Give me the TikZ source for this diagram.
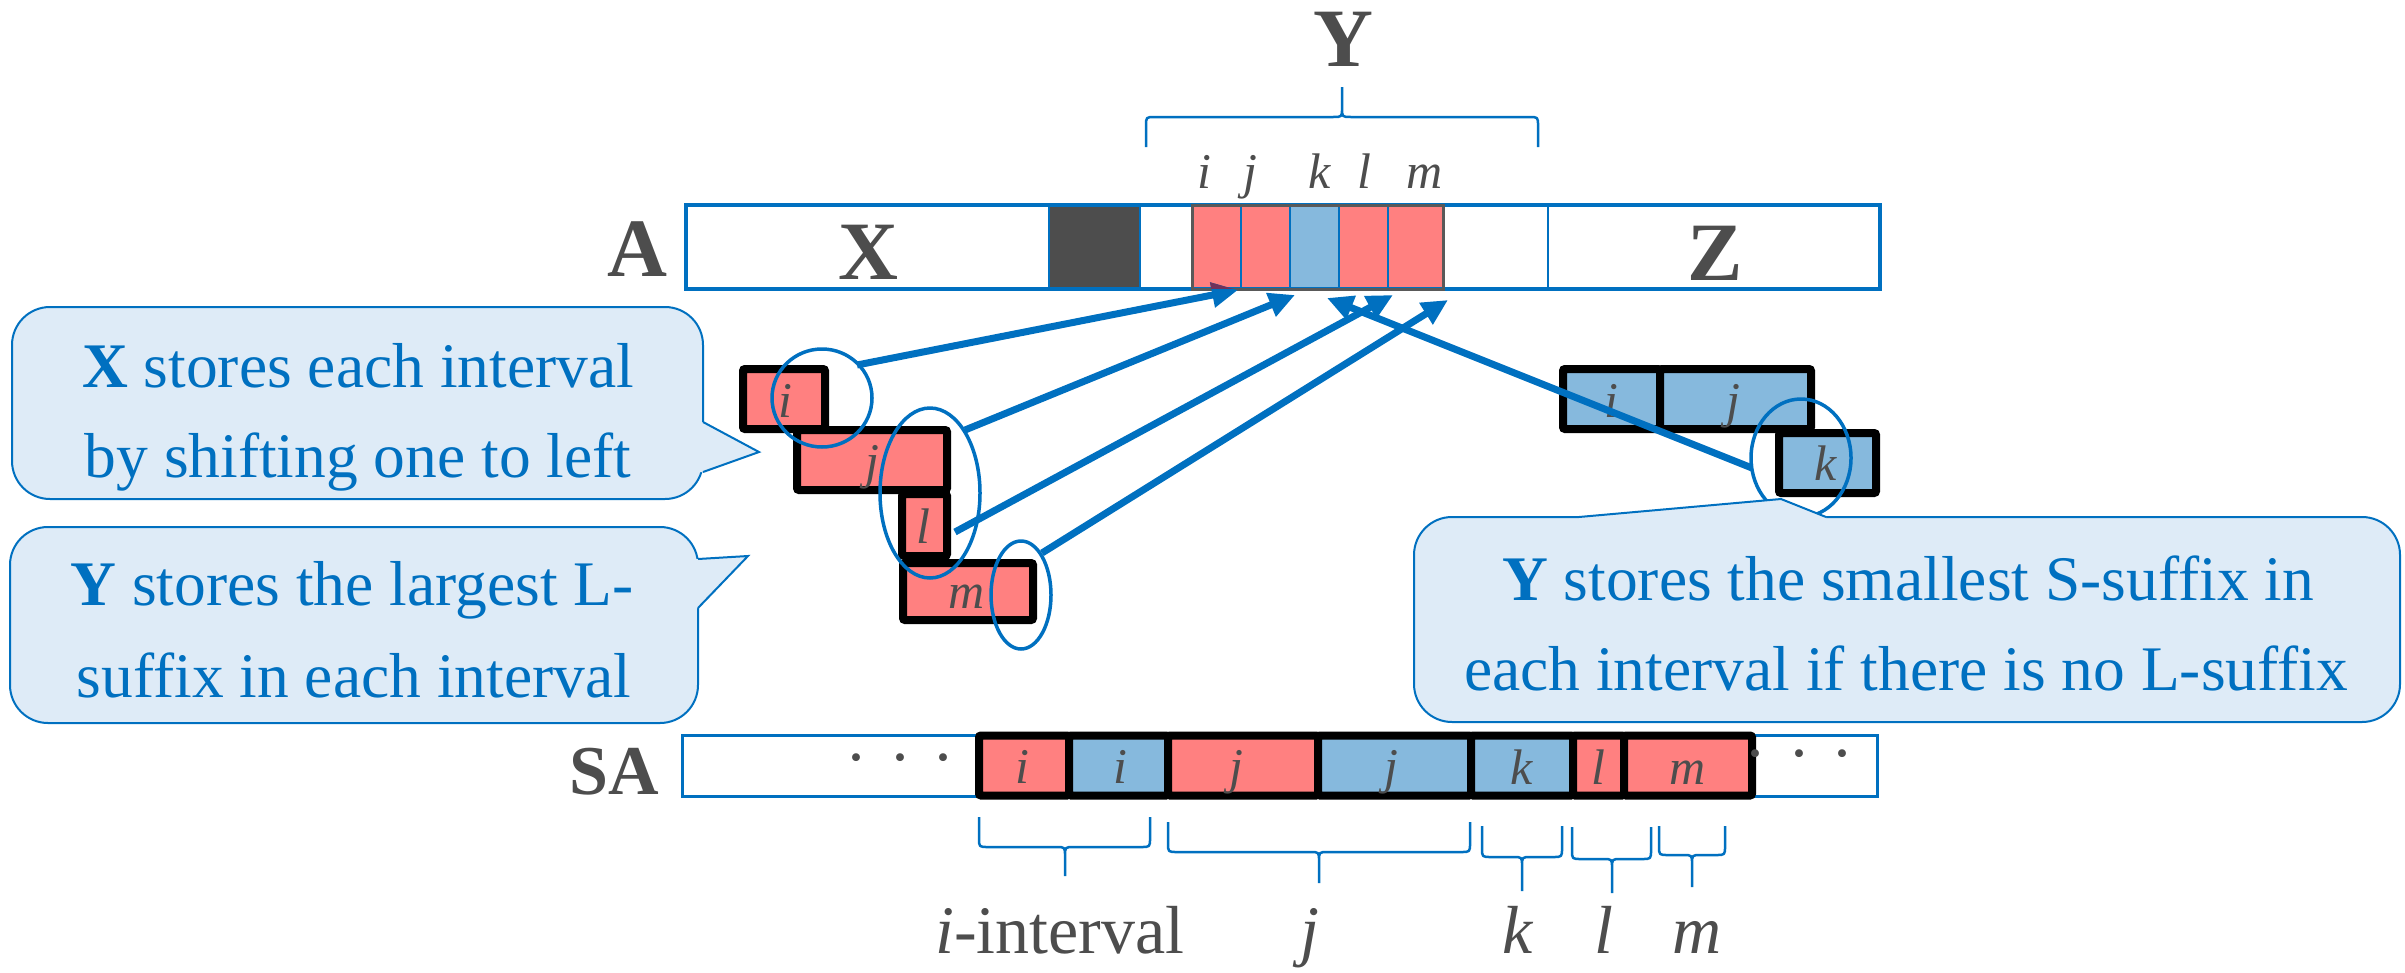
\documentclass[tikz,border=0pt]{standalone}
\usepackage{fontspec}
\setmainfont{Liberation Serif}
\usetikzlibrary{arrows.meta}

\definecolor{accent}{RGB}{0,112,192}
\definecolor{notefill}{RGB}{222,235,247}
\definecolor{lcell}{RGB}{255,128,128}
\definecolor{scell}{RGB}{134,185,221}
\definecolor{ink}{RGB}{77,77,77}
\definecolor{rim}{RGB}{89,89,89}
\definecolor{shade}{RGB}{112,50,92}

\newcommand\setfs[2]{\fontsize{#1}{#2}\selectfont}
% curly bracket: x1, x2, x of tip, y of ends, y of bar, y of tip, direction (1 = tip down, -1 = tip up)
\newcommand\curlybracket[7]{%
  \draw[curly] (#1,#4) -- (#1,{#5-9*(#7)}) .. controls (#1,#5) .. ({#1+9},#5)
      -- ({#3-9},#5) .. controls (#3,#5) .. (#3,{#5+9*(#7)}) -- (#3,#6)
    (#2,#4) -- (#2,{#5-9*(#7)}) .. controls (#2,#5) .. ({#2-9},#5)
      -- ({#3+9},#5) .. controls (#3,#5) .. (#3,{#5+9*(#7)});}

\begin{document}
\begin{tikzpicture}[x=1pt,y=-1pt,
  curly/.style={draw=accent,line width=2.5pt,line join=round},
  bigletter/.style={font=\setfs{83}{90}\bfseries,text=ink,inner sep=0pt,anchor=base},
  arrayname/.style={font=\setfs{70}{80}\bfseries,text=ink,inner sep=0pt,anchor=base},
  cellitem/.style={font=\setfs{50}{60}\itshape,text=ink,inner sep=0pt,anchor=base},
  keyitem/.style={font=\setfs{68}{80},text=ink,inner sep=0pt,anchor=base},
  dots/.style={font=\setfs{66}{80},text=ink,inner sep=0pt,anchor=base},
  notetext/.style={font=\setfs{63.5}{90},text=accent,inner sep=0pt,anchor=base},
  notebox/.style={fill=notefill,draw=accent,line width=2pt,rounded corners=38pt},
  noteedge/.style={draw=accent,line width=2pt,line join=miter},
  frame/.style={draw=accent,line width=3.5pt},
  divider/.style={draw=accent,line width=2.5pt},
  heavy/.style={draw=black,line width=8pt,rounded corners=2pt},
  ring/.style={draw=accent,line width=3.5pt},
  link/.style={draw=accent,line width=7pt,-{Triangle[length=26pt,width=24pt]}}]

\useasboundingbox (0,0) rectangle (2405,972);

% ---------- array A ----------
\fill[ink] (1049,205) rectangle (1140,289);
\fill[lcell] (1192,205) rectangle (1290,289);
\fill[scell] (1290,205) rectangle (1339,289);
\fill[lcell] (1339,205) rectangle (1443,289);
\draw[frame] (686,205) rectangle (1880,289);
\foreach \x in {1049,1140,1548,1241,1290,1339,1388}
  \draw[divider] (\x,205) -- (\x,289);
\draw[draw=rim,line width=3pt] (1192,205) rectangle (1443,289);

\node[bigletter] (nameA) at (637,276) {A};
\node[bigletter] (partX) at (868,279) {X};
\node[bigletter] (partZ) at (1715,280) {Z};
\node[bigletter] (partY) at (1343,66) {Y};
\curlybracket{1146}{1538}{1342}{147}{117}{87}{-1}

\node[cellitem] (ai) at (1204,188) {i};
\node[cellitem] (aj) at (1250,188) {j};
\node[cellitem] (ak) at (1320,188) {k};
\node[cellitem] (al) at (1364,188) {l};
\node[cellitem] (am) at (1425,188) {m};

% ---------- L-suffix staircase ----------
\draw[heavy,fill=lcell] (743,369) rectangle (825,429);
\draw[heavy,fill=lcell] (797,430) rectangle (947,490);
\draw[heavy,fill=lcell] (902,494) rectangle (947,556);
\draw[heavy,fill=lcell] (903,563) rectangle (1033,620);
\node[cellitem] (li) at (785,417) {i};
\node[cellitem] (lj) at (872,478) {j};
\node[cellitem] (ll) at (923,543) {l};
\node[cellitem] (lm) at (967,608) {m};

% ---------- S-suffix boxes ----------
\draw[heavy,fill=scell] (1563,369) rectangle (1660,429);
\draw[heavy,fill=scell] (1660,369) rectangle (1811,429);
\draw[heavy,fill=scell] (1779,433) rectangle (1876,493);
\node[cellitem] (si) at (1611,417) {i};
\node[cellitem] (sj) at (1733,417) {j};
\node[cellitem] (sk) at (1826,480) {k};

% ---------- rings ----------
\draw[ring] (822,398) ellipse [x radius=50pt, y radius=49pt];
\draw[ring] (930,493) ellipse [x radius=50pt, y radius=85pt];
\draw[ring] (1021,595) ellipse [x radius=30pt, y radius=54pt];
\draw[ring] (1801,458) ellipse [x radius=50pt, y radius=59pt];

% ---------- links into A ----------
\coordinate (s1) at (857,365);  \coordinate (t1) at (1238,290);
\coordinate (s2) at (965,430);  \coordinate (t2) at (1295,295);
\coordinate (s3) at (955,532);  \coordinate (t3) at (1393,295);
\coordinate (s4) at (1042,553); \coordinate (t4) at (1448,300);
\coordinate (s5) at (1752,468); \coordinate (t5) at (1327,298);
\draw[link] (s1) -- (t1);
\draw[link] (s2) -- (t2);
\draw[link] (s3) -- (t3);
\draw[link] (s4) -- (t4);
\draw[link] (s5) -- (t5);
\begin{scope}
  \clip (1194,207) rectangle (1240,288);
  \draw[link,draw=shade] (s1) -- (t1);
\end{scope}

% ---------- notes ----------
\draw[notebox] (12,307) rectangle (703,499);
\fill[notefill] (698,422) -- (703,422) -- (759,452) -- (703,472) -- (698,472) -- cycle;
\draw[noteedge] (703,422) -- (759,452) -- (703,472);
\node[notetext] (n1a) at (358,387) {\textbf{X} stores each interval};
\node[notetext] (n1b) at (358,477) {by shifting one to left};

\draw[notebox] (10,527) rectangle (698,723);
\fill[notefill] (693,559) -- (698,559) -- (748,556) -- (698,608) -- (693,608) -- cycle;
\draw[noteedge] (698,559) -- (748,556) -- (698,608);
\node[notetext] (n2a) at (352,605) {\textbf{Y} stores the largest L-};
\node[notetext] (n2b) at (354,697) {suffix in each interval};

\draw[notebox] (1414,517) rectangle (2400,722);
\fill[notefill] (1579,522) -- (1579,517) -- (1781,499) -- (1826,517) -- (1826,522) -- cycle;
\draw[noteedge] (1579,517) -- (1781,499) -- (1826,517);
\node[notetext] (n3a) at (1908,600) {\textbf{Y} stores the smallest S-suffix in};
\node[notetext] (n3b) at (1906,690) {each interval if there is no L-suffix};

% ---------- suffix array SA ----------
\draw[accent,line width=3pt] (682,735) rectangle (1877,796);
\draw[heavy,fill=lcell] (979,735.5) rectangle (1069,795.5);
\draw[heavy,fill=scell] (1069,735.5) rectangle (1168,795.5);
\draw[heavy,fill=lcell] (1168,735.5) rectangle (1318,795.5);
\draw[heavy,fill=scell] (1318,735.5) rectangle (1471,795.5);
\draw[heavy,fill=scell] (1471,735.5) rectangle (1573,795.5);
\draw[heavy,fill=lcell] (1573,735.5) rectangle (1624,795.5);
\draw[heavy,fill=lcell] (1624,735.5) rectangle (1752,795.5);
\node[arrayname] (nameSA) at (614,794) {SA};
\node[dots] (dl) at (900,779) {·\hspace{22pt}·\hspace{22pt}·};
\node[dots] (dr) at (1799,775) {·\hspace{22pt}·\hspace{22pt}·};
\node[cellitem] (c1) at (1022,783) {i};
\node[cellitem] (c2) at (1120,783) {i};
\node[cellitem] (c3) at (1236,783) {j};
\node[cellitem] (c4) at (1391,783) {j};
\node[cellitem] (c5) at (1522,784) {k};
\node[cellitem] (c6) at (1598,784) {l};
\node[cellitem] (c7) at (1688,784) {m};

% ---------- interval brackets ----------
\curlybracket{979}{1150}{1065}{817}{847}{876}{1}
\curlybracket{1168}{1470}{1319}{822}{852}{883}{1}
\curlybracket{1482}{1562}{1522}{826}{857}{891}{1}
\curlybracket{1572}{1651}{1612}{827}{859}{893}{1}
\curlybracket{1659}{1725}{1692}{826}{855}{887}{1}
\node[keyitem] (ki) at (1060,953) {\textit{i}-interval};
\node[keyitem] (kj) at (1310,953) {\textit{j}};
\node[keyitem] (kk) at (1518,953) {\textit{k}};
\node[keyitem] (kl) at (1604,953) {\textit{l}};
\node[keyitem] (km) at (1697,953) {\textit{m}};
\end{tikzpicture}
\end{document}
